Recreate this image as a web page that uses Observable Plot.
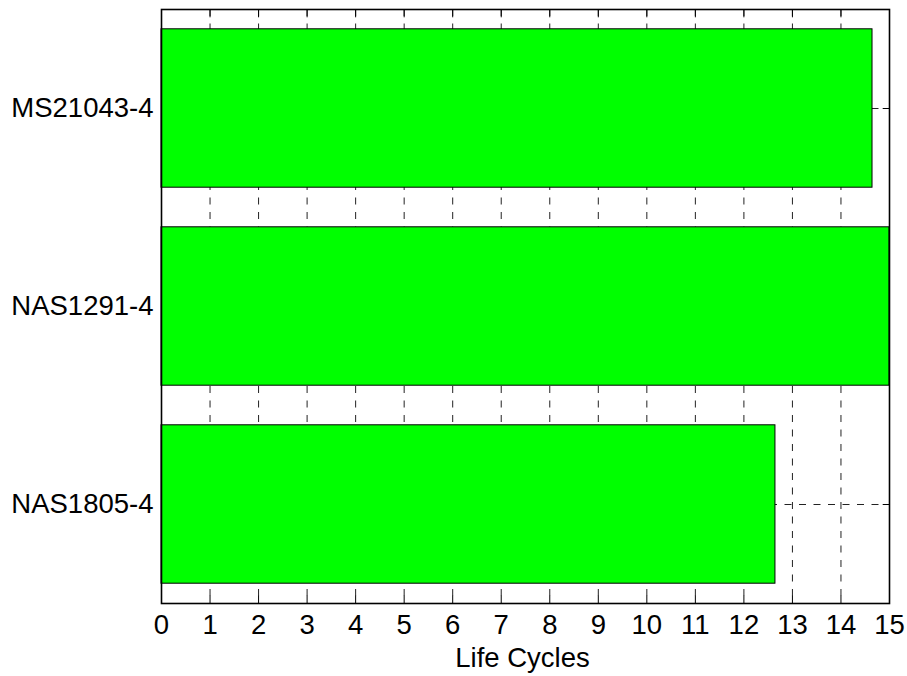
<!DOCTYPE html>
<html>
<head>
<meta charset="utf-8">
<script src="https://cdn.jsdelivr.net/npm/d3@7"></script>
<script src="https://cdn.jsdelivr.net/npm/@observablehq/plot@0.6"></script>
<style>
  html, body { margin: 0; padding: 0; background: #fff; }
  #chart svg { display: block; }
</style>
</head>
<body>
<div id="chart"></div>
<script>
// Fastener part numbers, top to bottom
const parts = ["MS21043-4", "NAS1291-4", "NAS1805-4"];
// Life cycles reached by each part
const lifeCycles = [14.65, 15, 12.65];
// Life-cycle axis ticks
const xTicks = [0, 1, 2, 3, 4, 5, 6, 7, 8, 9, 10, 11, 12, 13, 14, 15];

const rows = parts.map((name, i) => ({name, pos: i + 1, value: lifeCycles[i]}));
const barHalf = 0.4;       // bar thickness is 0.8 of the category spacing
const tickLen = 7.3;       // inward tick length in px
const fontSize = 27.5;
const font = "'Liberation Sans', Arial, Helvetica, sans-serif";
const gridStyle = {stroke: "#222", strokeWidth: 1, strokeDasharray: "7,7.5"};

const chart = Plot.plot({
  width: 907,
  height: 676,
  marginLeft: 161,
  marginRight: 18,
  marginTop: 9,
  marginBottom: 73,
  style: {background: "#fff", fontFamily: font, fontSize: fontSize + "px", color: "#000"},
  x: {domain: [0, 15]},
  y: {domain: [0.5, 3.5], reverse: true},
  marks: [
    // dashed grid behind the bars
    Plot.ruleX(xTicks.slice(1, -1), {x: d => d, ...gridStyle}),
    Plot.ruleY(rows, {y: "pos", ...gridStyle}),
    // inward tick marks on all four sides
    Plot.axisX({anchor: "bottom", ticks: xTicks, tickSize: tickLen, dy: -tickLen, tickFormat: () => "", label: null, stroke: "#000"}),
    Plot.axisX({anchor: "top", ticks: xTicks, tickSize: tickLen, dy: tickLen, tickFormat: () => "", label: null, stroke: "#000"}),
    Plot.axisY({anchor: "left", ticks: [1, 2, 3], tickSize: tickLen, dx: tickLen, tickFormat: () => "", label: null, stroke: "#000"}),
    Plot.axisY({anchor: "right", ticks: [1, 2, 3], tickSize: tickLen, dx: -tickLen, tickFormat: () => "", label: null, stroke: "#000"}),
    // bars
    Plot.rectX(rows, {
      x1: 0,
      x2: "value",
      y1: d => d.pos - barHalf,
      y2: d => d.pos + barHalf,
      fill: "#00ff00",
      stroke: "#000",
      strokeWidth: 1
    }),
    // tick labels
    Plot.axisX({anchor: "bottom", ticks: xTicks, tickSize: 0, tickPadding: 11, tickFormat: d => String(d), label: null, fontSize, fill: "#000"}),
    Plot.axisY({anchor: "left", ticks: [1, 2, 3], tickSize: 0, tickPadding: 8, tickFormat: i => parts[i - 1], label: null, fontSize, fill: "#000"}),
    // axis title
    Plot.text(["Life Cycles"], {frameAnchor: "bottom", dy: 44, dx: -3, lineAnchor: "top", fontSize, fill: "#000", text: d => d}),
    Plot.frame({stroke: "#000", strokeWidth: 1.6})
  ]
});

document.getElementById("chart").appendChild(chart);
</script>
</body>
</html>
